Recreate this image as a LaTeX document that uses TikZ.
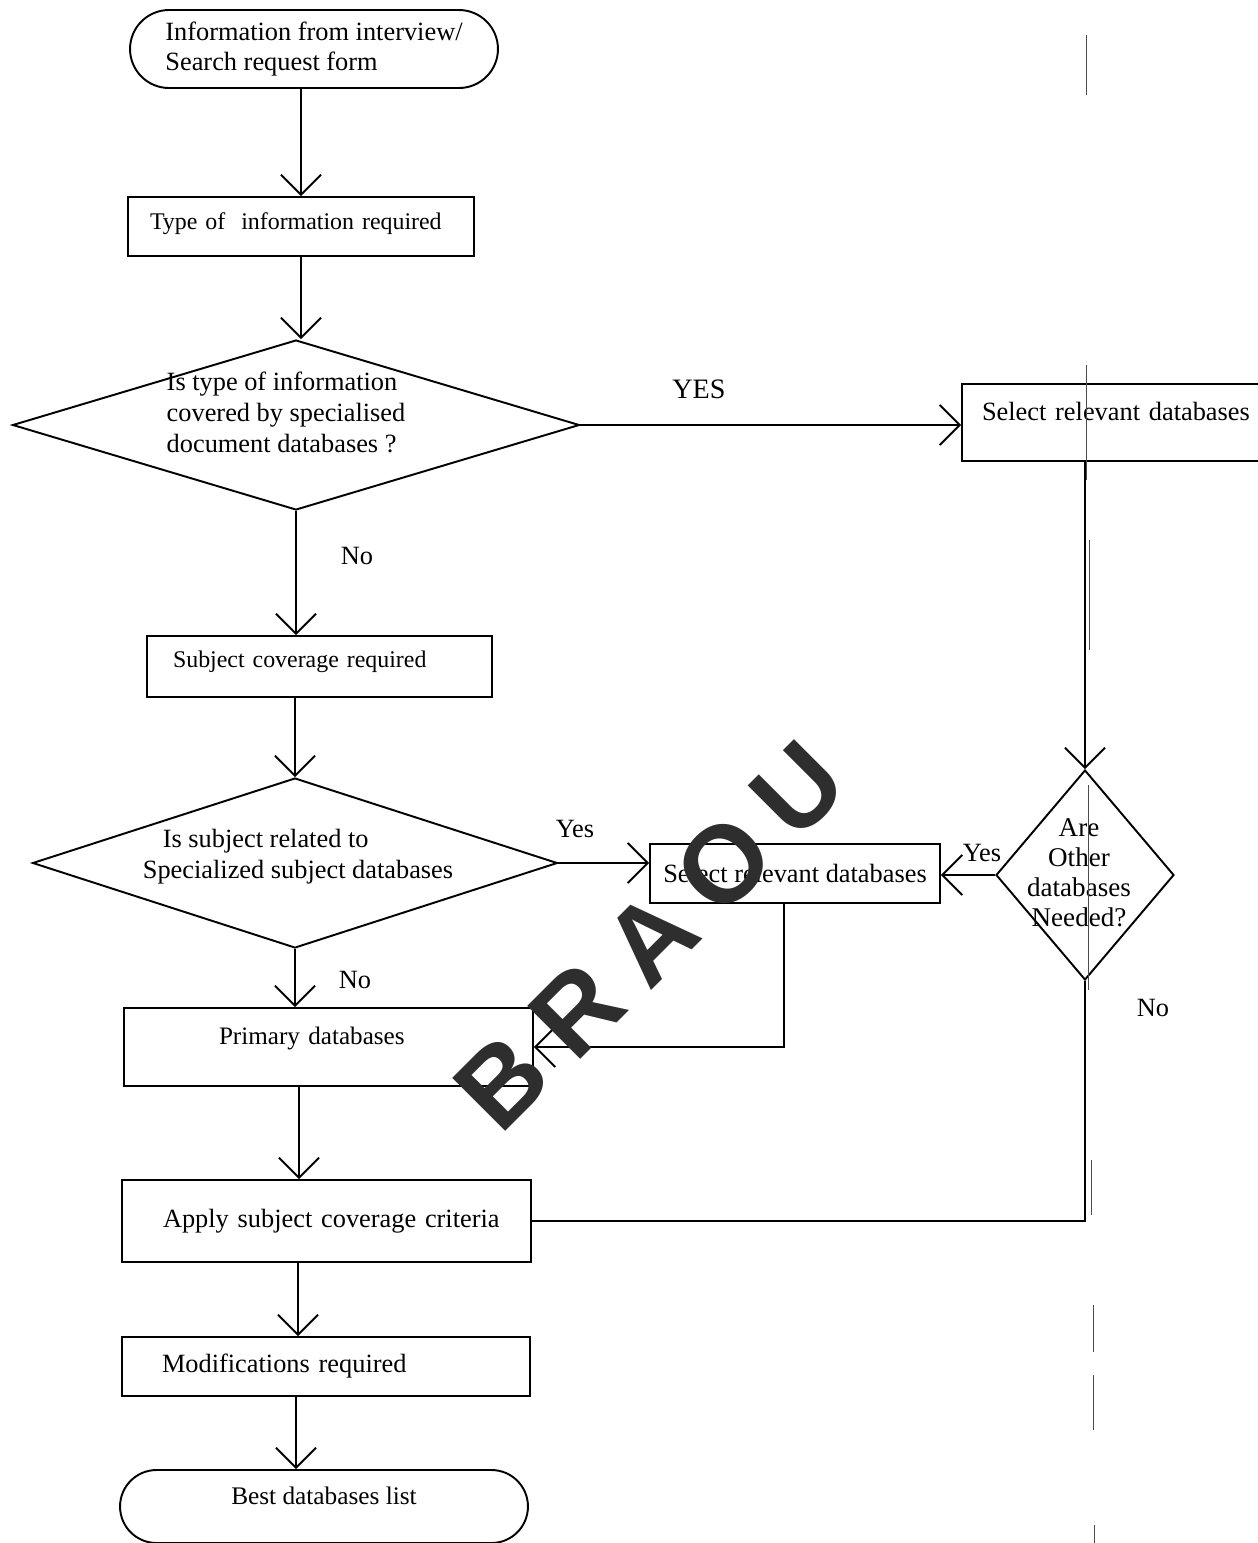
\documentclass[tikz,border=0pt]{standalone}
\usepackage{fontspec}
\setmainfont{Liberation Serif}
\newfontfamily\wmfont{Liberation Sans}
\usetikzlibrary{arrows.meta,shapes.geometric,shapes.misc}
\begin{document}
\begin{tikzpicture}[x=0.02cm,y=-0.02cm,
  every node/.style={font=\fontsize{15}{17.6}\selectfont},
  box/.style={draw,line width=1.1pt,rectangle,inner ysep=0pt},
  term/.style={draw,line width=1.1pt,rounded rectangle,inner sep=0pt},
  decision/.style={draw,line width=1.1pt,diamond,inner sep=0pt},
  dtext/.style={inner sep=0pt,align=left},
  arr/.style={line width=1.1pt,-{Straight Barb[length=0.4cm,width=0.8cm]}},
  plain/.style={line width=1.1pt},
  lbl/.style={inner sep=0pt},
  scan/.style={line width=0.5pt,black!70},
  wm/.style={font=\wmfont\bfseries\fontsize{62}{62}\selectfont,text=black!82,rotate=45,inner sep=0pt}
]
\useasboundingbox (0,0) rectangle (1258,1543);

% terminals and boxes
\node[term,minimum width=7.36cm,minimum height=1.56cm,align=left] (start) at (314,49)
  {Information from interview/\\Search request form};
\node[box,minimum width=6.92cm,minimum height=1.18cm,inner xsep=0.44cm,text width=6.04cm,align=left,
  font=\fontsize{13.6}{16}\selectfont] (type) at (301,226.5)
  {\raisebox{0.22cm}{Type of\ \ information required}};
\node[decision,minimum width=11.34cm,minimum height=3.4cm] (d1) at (296,425) {};
\node[dtext] (d1t) at (286,412) {Is type of information\\covered by specialised\\document databases ?};
\node[box,minimum width=6.76cm,minimum height=1.54cm,inner xsep=0.4cm,text width=5.96cm,align=left] (sel1) at (1131,422.5)
  {\raisebox{0.46cm}{Select relevant databases}};
\node[box,minimum width=6.9cm,minimum height=1.22cm,inner xsep=0.52cm,text width=5.86cm,align=left,
  font=\fontsize{13.6}{16}\selectfont] (subj) at (319.5,666.5)
  {\raisebox{0.3cm}{Subject coverage required}};
\node[decision,minimum width=10.5cm,minimum height=3.4cm] (d3) at (295,863) {};
\node[dtext] (d3t) at (298,857) {\hspace*{0.4cm}Is subject related to\\Specialized subject databases};
\node[box,minimum width=5.8cm,minimum height=1.18cm,inner xsep=0pt] (sel2) at (795,873.5)
  {Select relevant databases};
\node[decision,minimum width=3.56cm,minimum height=4.2cm] (d2) at (1085,875) {};
\node[dtext,align=center,font=\fontsize{15.4}{17}\selectfont] (d2t) at (1079,873) {Are\\Other\\databases\\Needed?};
\node[box,minimum width=8.18cm,minimum height=1.56cm,inner xsep=1.9cm,text width=4.38cm,align=left,
  font=\fontsize{14.3}{17}\selectfont] (prim) at (328.5,1047)
  {\raisebox{0.44cm}{Primary databases}};
\node[box,minimum width=8.18cm,minimum height=1.64cm,inner xsep=0.82cm,text width=6.54cm,align=left] (apply) at (326.5,1221)
  {\raisebox{-0.32cm}{Apply subject coverage criteria}};
\node[box,minimum width=8.16cm,minimum height=1.18cm,inner xsep=0.8cm,text width=6.56cm,align=left] (mod) at (326,1366.5)
  {Modifications required};
\node[term,minimum width=8.16cm,minimum height=1.46cm,font=\fontsize{14.4}{17}\selectfont] (best) at (324,1506.5)
  {\raisebox{0.42cm}{Best databases list}};

% connectors
\draw[arr] (type.north |- start.south) -- (type.north);
\draw[arr] (type.south) -- (type.south |- d1.north);
\draw[arr] (d1.east) -- (d1.east -| sel1.west);
\draw[arr] (d1.south) -- (d1.south |- subj.north);
\draw[arr] (d3.north |- subj.south) -- (d3.north);
\draw[arr] (d3.east) -- (d3.east -| sel2.west);
\draw[arr] (d3.south) -- (d3.south |- prim.north);
\draw[arr] (sel1.south -| d2.north) -- (d2.north);
\draw[arr] (d2.west) -- (d2.west -| sel2.east);
\draw[arr] ([xshift=-0.22cm]sel2.south) |- (prim.east);
\draw[arr] ([xshift=-0.59cm]prim.south) -- ([xshift=-0.59cm]prim.south |- apply.north);
\draw[arr] ([xshift=-0.57cm]apply.south) -- ([xshift=-0.57cm]apply.south |- mod.north);
\draw[arr] ([xshift=-0.6cm]mod.south) -- ([xshift=-0.6cm]mod.south |- best.north);
\draw[plain] (d2.south) |- (apply.east);

% labels
\node[lbl,font=\fontsize{16}{18}\selectfont] (yes1) at (699,389) {YES};
\node[lbl] (no1) at (357,556) {No};
\node[lbl] (yes2) at (575,829) {Yes};
\node[lbl] (yes3) at (982,853) {Yes};
\node[lbl] (no2) at (355,980) {No};
\node[lbl] (no3) at (1153,1008) {No};

% faint scan line on the right
\draw[scan] (1086,35) -- (1086,95);
\draw[scan] (1086,365) -- (1086,480);
\draw[scan] (1089,540) -- (1089,650);
\draw[scan] (1088,785) -- (1088,990);
\draw[scan] (1091,1160) -- (1091,1215);
\draw[scan] (1093,1305) -- (1093,1352);
\draw[scan] (1093,1375) -- (1093,1430);
\draw[scan] (1094,1525) -- (1094,1543);

% watermark
\node[wm] (wB) at (502,1082) {B};
\node[wm] (wR) at (577,1010) {R};
\node[wm] (wA) at (651,938) {A};
\node[wm] (wO) at (724,864) {O};
\node[wm] (wU) at (798,790) {U};
\end{tikzpicture}
\end{document}
